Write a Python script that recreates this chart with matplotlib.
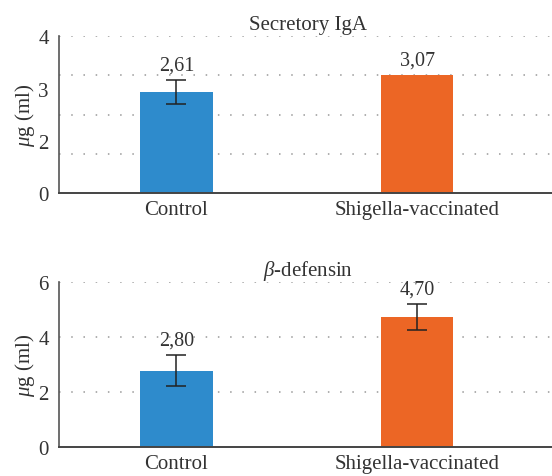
import matplotlib
matplotlib.use("Agg")
import matplotlib.pyplot as plt

plt.rcParams['font.family'] = ['Liberation Serif', 'DejaVu Serif']
plt.rcParams['mathtext.fontset'] = 'custom'
plt.rcParams['mathtext.it'] = 'Liberation Serif:italic'
plt.rcParams['mathtext.rm'] = 'Liberation Serif'

# data
groups = ["Control", "Shigella-vaccinated"]
colors = ["#2e8bcc", "#ec6625"]

iga_means = [2.57, 3.02]
iga_err = [0.31, 0.0]
iga_labels = ["2,61", "3,07"]

def_means = [2.78, 4.74]
def_err = [0.56, 0.47]
def_labels = ["2,80", "4,70"]

# top panel uses odd tick labels as in the original
iga_tick_pos = [0, 4 / 3, 8 / 3, 4]
iga_tick_lab = ["0", "2", "3", "4"]
iga_grid = [1, 2, 3, 4]

def_ticks = [0, 2, 4, 6]
def_grid = [2, 4, 6]

fs = 15
fig = plt.figure(figsize=(5.52, 4.77), dpi=100)
ax1 = fig.add_axes([0.106, 0.593, 0.894, 0.329])
ax2 = fig.add_axes([0.106, 0.060, 0.894, 0.347])


def panel(ax, means, errs, labels, ymax, title, grid):
    x = range(len(groups))
    for i in x:
        ax.bar(i, means[i], width=0.30, color=colors[i], zorder=2)
        if errs[i] > 0:
            ax.errorbar(i, means[i], yerr=errs[i], color="#222222", capsize=7,
                        elinewidth=1.1, capthick=1.1, zorder=3)
        ax.annotate(labels[i], (i, means[i] + errs[i]), xytext=(0, 4),
                    textcoords="offset points", ha="center", va="bottom",
                    fontsize=fs - 0.5, color="#333333")
    for g in grid:
        ax.axhline(g, color="#999999", linestyle=(0, (1, 7)), linewidth=1.1, zorder=1)
    ax.set_xlim(-0.49, 1.56)
    ax.set_ylim(0, ymax)
    ax.set_xticks(list(x))
    ax.set_xticklabels(groups, fontsize=fs, color="#333333")
    ax.tick_params(length=0, pad=5)
    ax.tick_params(axis="y", labelsize=fs, colors="#333333", pad=7)
    for s in ["top", "right"]:
        ax.spines[s].set_visible(False)
    ax.spines["left"].set_color("#555555")
    ax.spines["bottom"].set_color("#444444")
    ax.spines["left"].set_linewidth(1.2)
    ax.spines["bottom"].set_linewidth(1.4)
    ax.set_title(title, fontsize=fs, color="#333333", pad=5, x=0.505)
    ax.set_ylabel(r"$\mu$g (ml)", fontsize=fs, color="#333333", labelpad=1)


panel(ax1, iga_means, iga_err, iga_labels, 4, "Secretory IgA", iga_grid)
ax1.set_yticks(iga_tick_pos)
ax1.set_yticklabels(iga_tick_lab)

panel(ax2, def_means, def_err, def_labels, 6, r"$\beta$-defensin", def_grid)
ax2.set_yticks(def_ticks)

fig.savefig("out.png", dpi=100)
